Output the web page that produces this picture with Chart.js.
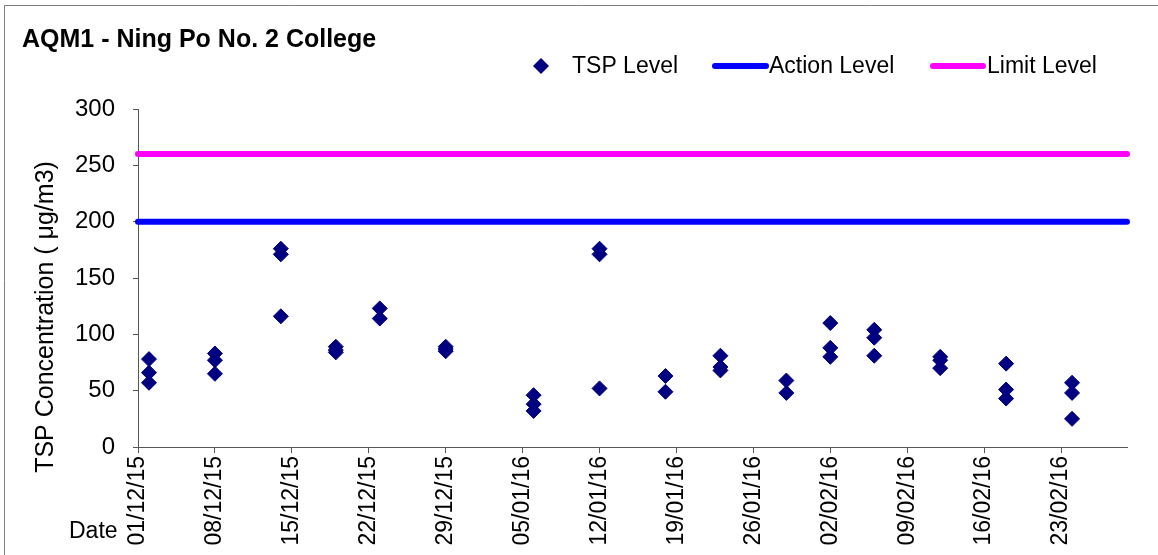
<!DOCTYPE html>
<html>
<head>
<meta charset="utf-8">
<script src="https://cdn.jsdelivr.net/npm/chart.js@4"></script>
<style>
  html, body { margin: 0; padding: 0; background: #fff; }
  #wrap { position: relative; width: 1158px; height: 555px; }
</style>
</head>
<body>
<div id="wrap"><canvas id="aqm1"></canvas></div>
<script>
// sampling dates (dd/mm/yy) and measured TSP, one entry per sample
const sampleDates = [
    '02/12/15', '02/12/15', '02/12/15',
    '08/12/15', '08/12/15', '08/12/15',
    '14/12/15', '14/12/15', '14/12/15',
    '19/12/15', '19/12/15', '19/12/15',
    '23/12/15', '23/12/15',
    '29/12/15', '29/12/15', '29/12/15',
    '06/01/16', '06/01/16', '06/01/16',
    '12/01/16', '12/01/16', '12/01/16',
    '18/01/16', '18/01/16',
    '23/01/16', '23/01/16', '23/01/16',
    '29/01/16', '29/01/16',
    '02/02/16', '02/02/16', '02/02/16',
    '06/02/16', '06/02/16', '06/02/16',
    '12/02/16', '12/02/16', '12/02/16',
    '18/02/16', '18/02/16', '18/02/16',
    '24/02/16', '24/02/16', '24/02/16'
];
const tspValues = [
    78, 66, 57,
    83, 77, 65,
    176, 171, 116,
    89, 86, 84,
    123, 114,
    89, 87, 85,
    46, 38, 32,
    176, 171, 52,
    63, 49,
    81, 71, 68,
    59, 48,
    110, 88, 80,
    104, 97, 81,
    80, 77, 70,
    74, 51, 43,
    57, 48, 25
];

const axisRange = ['01/12/15', '29/02/16'];   // x axis start / end
const actionLevel = 200;
const limitLevel = 260;
const yTicks = [0, 50, 100, 150, 200, 250, 300];

const DAY = 86400000;
function toTime(s) {
    const [d, m, y] = s.split('/').map(Number);
    return Date.UTC(2000 + y, m - 1, d);
}
const t0 = toTime(axisRange[0]);
const dayNo = s => (toTime(s) - t0) / DAY;
function fmtDay(n) {
    const dt = new Date(t0 + n * DAY);
    const p = v => String(v).padStart(2, '0');
    return p(dt.getUTCDate()) + '/' + p(dt.getUTCMonth() + 1) + '/' + p(dt.getUTCFullYear() % 100);
}

const xMin = dayNo(axisRange[0]);
const xMax = dayNo(axisRange[1]);
const FONT = 'Arial, "Liberation Sans", sans-serif';

// title, frame, legend, y title and "Date" drawn by hand, like the original sheet
const decor = {
    id: 'decor',
    afterDraw(chart) {
        const ctx = chart.ctx;
        ctx.save();
        ctx.strokeStyle = '#7f7f7f';
        ctx.lineWidth = 1;
        ctx.beginPath();
        ctx.moveTo(4.5, 560);
        ctx.lineTo(4.5, 5.5);
        ctx.lineTo(1160, 5.5);
        ctx.stroke();

        ctx.fillStyle = '#000';
        ctx.font = 'bold 25px ' + FONT;
        ctx.textBaseline = 'alphabetic';
        ctx.fillText('AQM1 - Ning Po No. 2 College', 22, 47);

        ctx.font = '23px ' + FONT;
        ctx.fillText('Date', 69, 538);

        // y axis title
        ctx.save();
        ctx.translate(46, 317);
        ctx.rotate(-Math.PI / 2);
        ctx.textAlign = 'center';
        ctx.textBaseline = 'middle';
        ctx.font = '25px ' + FONT;
        ctx.fillText('TSP Concentration ( μg/m3)', 0, 0);
        ctx.restore();

        // legend
        const ly = 66;
        const ds = chart.data.datasets;
        ctx.font = '23px ' + FONT;
        ctx.textBaseline = 'middle';
        ctx.fillStyle = ds[0].backgroundColor;
        ctx.beginPath();
        ctx.moveTo(533, ly); ctx.lineTo(541, ly - 8); ctx.lineTo(549, ly); ctx.lineTo(541, ly + 8);
        ctx.closePath();
        ctx.fill();
        ctx.fillStyle = '#000';
        ctx.fillText(ds[0].label, 572, ly + 1);

        const items = [[ds[1], 715, 766, 769], [ds[2], 933, 983, 987]];
        for (const [d, a, b, tx] of items) {
            ctx.strokeStyle = d.borderColor;
            ctx.lineWidth = 6;
            ctx.lineCap = 'round';
            ctx.beginPath();
            ctx.moveTo(a, ly); ctx.lineTo(b, ly);
            ctx.stroke();
            ctx.fillStyle = '#000';
            ctx.fillText(d.label, tx, ly + 1);
        }
        ctx.restore();
    }
};

new Chart(document.getElementById('aqm1'), {
    type: 'scatter',
    data: {
        datasets: [{
            label: 'TSP Level',
            data: sampleDates.map((d, i) => ({ x: dayNo(d), y: tspValues[i] })),
            pointStyle: 'rectRot',
            pointRadius: 7.5,
            pointHoverRadius: 7.5,
            backgroundColor: '#000080',
            borderColor: '#000080',
            borderWidth: 1,
            order: 0
        }, {
            label: 'Action Level',
            type: 'line',
            data: axisRange.map(d => ({ x: dayNo(d), y: actionLevel })),
            borderColor: '#0000ff',
            backgroundColor: '#0000ff',
            borderWidth: 6,
            pointRadius: 0,
            borderCapStyle: 'round',
            clip: false,
            order: 1
        }, {
            label: 'Limit Level',
            type: 'line',
            data: axisRange.map(d => ({ x: dayNo(d), y: limitLevel })),
            borderColor: '#ff00ff',
            backgroundColor: '#ff00ff',
            borderWidth: 6,
            pointRadius: 0,
            borderCapStyle: 'round',
            clip: false,
            order: 1
        }]
    },
    options: {
        responsive: true,
        maintainAspectRatio: false,
        animation: false,
        events: [],
        layout: { padding: { left: 0, top: 109, right: 31, bottom: 0 } },
        plugins: {
            legend: { display: false },
            title: { display: false },
            tooltip: { enabled: false }
        },
        scales: {
            x: {
                type: 'linear',
                min: xMin,
                max: xMax,
                afterBuildTicks: s => {
                    const t = [];
                    for (let v = xMin; v <= xMax; v += 7) t.push({ value: v });
                    s.ticks = t;
                },
                afterFit: s => { s.height = 108; },
                border: { color: '#555', width: 1 },
                grid: { drawOnChartArea: false, drawTicks: true, tickLength: 6, color: '#555' },
                ticks: {
                    color: '#000',
                    font: { family: FONT, size: 23 },
                    maxRotation: 90,
                    minRotation: 90,
                    padding: 3,
                    autoSkip: false,
                    callback: v => fmtDay(v)
                }
            },
            y: {
                min: 0,
                max: 300,
                afterBuildTicks: s => { s.ticks = yTicks.map(v => ({ value: v })); },
                afterFit: s => { s.width = 138; },
                border: { color: '#555', width: 1 },
                grid: { drawOnChartArea: false, drawTicks: true, tickLength: 5, color: '#555' },
                ticks: {
                    color: '#000',
                    font: { family: FONT, size: 24 },
                    padding: 18
                }
            }
        }
    },
    plugins: [decor]
});
</script>
</body>
</html>
